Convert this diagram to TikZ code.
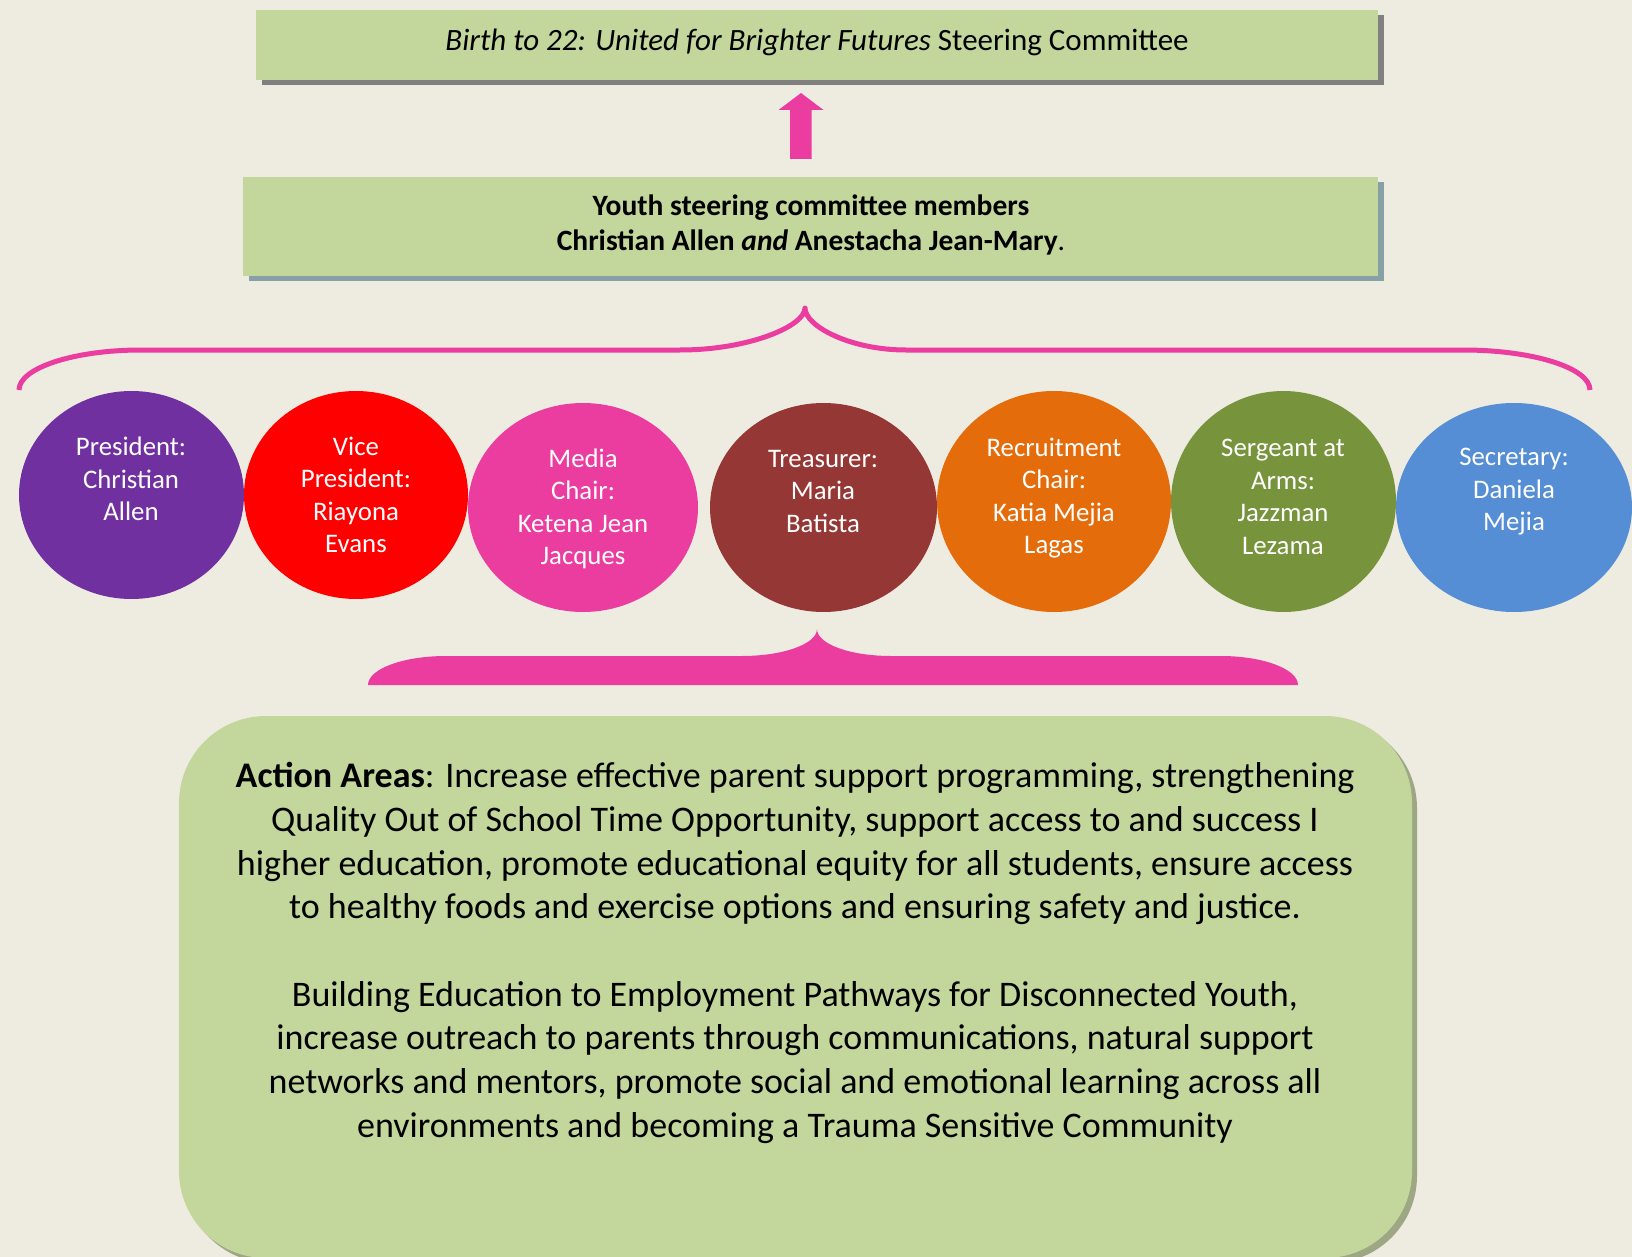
\documentclass[tikz,border=0pt]{standalone}
\usepackage{fontspec}
\setmainfont{Carlito}
\usetikzlibrary{shapes.geometric,shadows}
\definecolor{bg}{HTML}{EEECE1}
\definecolor{boxgreen}{HTML}{C3D69B}
\definecolor{shgray}{HTML}{808080}
\definecolor{shblue}{HTML}{86A0A6}
\definecolor{sholive}{HTML}{9DA784}
\definecolor{bpink}{HTML}{EB3C9F}
\definecolor{cpurple}{HTML}{7030A0}
\definecolor{cred}{HTML}{FF0000}
\definecolor{cbrown}{HTML}{953735}
\definecolor{corange}{HTML}{E46C0A}
\definecolor{cgreen}{HTML}{77933C}
\definecolor{cblue}{HTML}{558ED5}
\begin{document}
\begin{tikzpicture}[x=1pt,y=-1pt,
  greenbox/.style={fill=boxgreen, inner sep=0pt},
  oval/.style={ellipse, inner sep=0pt},
  ctext/.style={text=white, align=center, font=\fontsize{26.8}{32.5}\selectfont, inner sep=0pt},
  btext/.style={text=black, align=center, inner sep=0pt},
]
\useasboundingbox (0,0) rectangle (1632,1257);
\fill[bg] (0,0) rectangle (1632,1257);

% top box
\node[greenbox, general shadow={fill=shgray, shadow xshift=6pt, shadow yshift=-5pt},
      minimum width=1122pt, minimum height=70pt] (title) at (817,45) {};
\node[btext, font=\fontsize{31}{36}\selectfont] (titletext) at (817,42)
  {\textit{Birth to 22: United for Brighter Futures} Steering Committee};

% arrow
\fill[bpink] (801,93) -- (823.5,110) -- (811.5,110) -- (811.5,159) -- (790,159) -- (790,110) -- (778.5,110) -- cycle;

% second box
\node[greenbox, general shadow={fill=shblue, shadow xshift=6pt, shadow yshift=-5pt},
      minimum width=1135pt, minimum height=99pt] (youth) at (810.5,226.5) {};
\node[btext, font=\fontsize{29.5}{35.5}\selectfont] (youthtext) at (811,225)
  {\textbf{Youth steering committee members}\\\textbf{Christian Allen \textit{and} Anestacha Jean-Mary}.};

% upper brace
\draw[bpink, line width=5pt, line join=round] (19,390) .. controls (19,368) and (74,350) .. (141,350) -- (680,350)
  .. controls (749,350) and (805,326) .. (805,308)
  .. controls (805,326) and (850,350) .. (906,350) -- (1463,350)
  .. controls (1533,350) and (1590,368) .. (1590,390);

% ovals
\node[oval, fill=cpurple, minimum width=225pt, minimum height=208pt] (c1) at (131.5,495) {};
\node[oval, fill=cred, minimum width=224pt, minimum height=208pt] (c2) at (356,495) {};
\node[oval, fill=bpink, minimum width=230pt, minimum height=209pt] (c3) at (583,507.5) {};
\node[oval, fill=cbrown, minimum width=227pt, minimum height=209pt] (c4) at (823.5,507.5) {};
\node[oval, fill=corange, minimum width=234pt, minimum height=221pt] (c5) at (1054,501.5) {};
\node[oval, fill=cgreen, minimum width=225pt, minimum height=221pt] (c6) at (1283.5,501.5) {};
\node[oval, fill=cblue, minimum width=236pt, minimum height=209pt] (c7) at (1514,507.5) {};

\node[ctext] (t1) at (131,479) {President:\\Christian\\Allen};
\node[ctext] (t2) at (356,495) {Vice\\President:\\Riayona\\Evans};
\node[ctext] (t3) at (583,509) {Media\\Chair:\\Ketena Jean\\Jacques};
\node[ctext] (t4) at (823,491) {Treasurer:\\Maria\\Batista};
\node[ctext] (t5) at (1054,498) {Recruitment\\Chair:\\Katia Mejia\\Lagas};
\node[ctext] (t6) at (1283,497) {Sergeant at\\Arms:\\Jazzman\\Lezama};
\node[ctext] (t7) at (1514,492) {Secretary:\\Daniela\\Mejia};

% lower brace
\fill[bpink] (368,685) .. controls (368,669) and (403,656) .. (446,656) -- (742,656)
  .. controls (783,656) and (817,644) .. (817,629)
  .. controls (817,644) and (850,656) .. (891,656) -- (1221,656)
  .. controls (1263,656) and (1298,669) .. (1298,685) -- cycle;

% bottom box
\node[greenbox, rounded corners=87pt, general shadow={fill=sholive, shadow xshift=5pt, shadow yshift=-5pt},
      minimum width=1233pt, minimum height=542pt] (action) at (795.5,987) {};
\node[btext, font=\fontsize{36}{43.7}\selectfont] (actiontext) at (795,953)
  {\textbf{Action Areas}: Increase effective parent support programming, strengthening\\
   Quality Out of School Time Opportunity, support access to and success I\\
   higher education, promote educational equity for all students, ensure access\\
   to healthy foods and exercise options and ensuring safety and justice.\\[43.7pt]
   Building Education to Employment Pathways for Disconnected Youth,\\
   increase outreach to parents through communications, natural support\\
   networks and mentors, promote social and emotional learning across all\\
   environments and becoming a Trauma Sensitive Community};
\end{tikzpicture}
\end{document}
